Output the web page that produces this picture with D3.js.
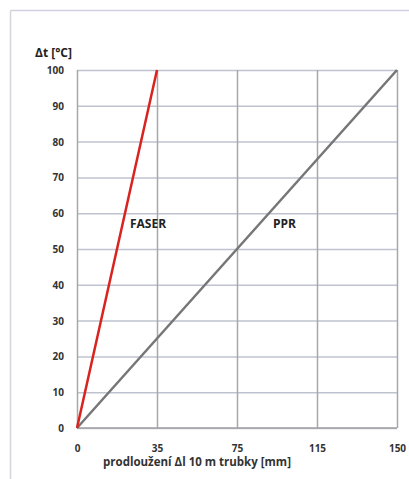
<!DOCTYPE html>
<html><head><meta charset="utf-8">
<script src="https://cdn.jsdelivr.net/npm/d3@7"></script>
<style>body{margin:0;background:#fff}svg{display:block}</style>
</head><body>
<script>
const xTicks = ["0","35","75","115","150"];
const yTicks = [0,10,20,30,40,50,60,70,80,90,100];
const seriesNames = ["FASER","PPR"];
const faserX = ["0","35"];
const faserY = [0,100];
const pprX = ["0","150"];
const pprY = [0,100];
const yTitle = "Δt [°C]";
const xTitle = "prodloužení Δl 10 m trubky [mm]";

const W=409,H=479;
const svg=d3.select("body").append("svg").attr("width",W).attr("height",H);
const font="'Open Sans', sans-serif";

// outer frame
svg.append("line").attr("x1",10.5).attr("x2",W).attr("y1",10.5).attr("y2",10.5).attr("stroke","#cfd0e2").attr("stroke-width",1.5);
svg.append("line").attr("x1",10.5).attr("x2",10.5).attr("y1",10.5).attr("y2",H).attr("stroke","#d4d4dc").attr("stroke-width",1.5);

const x=d3.scalePoint().domain(xTicks).range([77,397]);
const y=d3.scaleLinear().domain([0,100]).range([428,70]);

const g=svg.append("g");
// horizontal grid
g.append("g").attr("transform","translate(77,0)")
 .call(d3.axisLeft(y).tickValues(yTicks).tickSize(-320).tickFormat(""))
 .call(a=>a.select(".domain").remove())
 .call(a=>a.selectAll("line").attr("stroke","#bfc3cf").attr("stroke-width",1.5));
// vertical grid
g.append("g").attr("transform","translate(0,428)")
 .call(d3.axisBottom(x).tickSize(-358).tickFormat(""))
 .call(a=>a.select(".domain").remove())
 .call(a=>a.selectAll("line").attr("stroke","#a8a8a8").attr("stroke-width",1.5));
// bottom axis line
g.append("line").attr("x1",77).attr("x2",397).attr("y1",428).attr("y2",428).attr("stroke","#a0a0a0").attr("stroke-width",1.5);

// tick labels
const yAx=svg.append("g").attr("transform","translate(64,0)")
 .call(d3.axisLeft(y).tickValues(yTicks).tickSize(0).tickPadding(0));
yAx.select(".domain").remove();
yAx.selectAll("text").attr("font-family",font).attr("font-size",10).attr("font-weight","bold").attr("fill","#333").attr("dy","0.35em");

const xAx=svg.append("g").attr("transform","translate(0,445)")
 .call(d3.axisBottom(x).tickSize(0).tickPadding(0));
xAx.select(".domain").remove();
xAx.selectAll("text").attr("font-family",font).attr("font-size",10).attr("font-weight","bold").attr("fill","#333");

// lines
const line=d3.line().x(d=>x(d[0])).y(d=>y(d[1]));
svg.append("path").datum(pprX.map((v,i)=>[v,pprY[i]])).attr("d",line)
 .attr("stroke","#767676").attr("stroke-width",2.5).attr("fill","none");
svg.append("path").datum(faserX.map((v,i)=>[v,faserY[i]])).attr("d",line)
 .attr("stroke","#d8231f").attr("stroke-width",2.5).attr("fill","none");

// series labels
svg.append("text").attr("x",130).attr("y",228).text(seriesNames[0])
 .attr("font-family",font).attr("font-size",12).attr("font-weight","bold").attr("fill","#222");
svg.append("text").attr("x",273).attr("y",228).text(seriesNames[1])
 .attr("font-family",font).attr("font-size",12).attr("font-weight","bold").attr("fill","#222");

// titles
svg.append("text").attr("x",35).attr("y",57).text(yTitle)
 .attr("font-family",font).attr("font-size",12).attr("font-weight","bold").attr("fill","#222");
svg.append("text").attr("x",197).attr("y",466).attr("text-anchor","middle").text(xTitle)
 .attr("font-family",font).attr("font-size",11.5).attr("font-weight","bold").attr("fill","#333");
</script>
</body></html>
